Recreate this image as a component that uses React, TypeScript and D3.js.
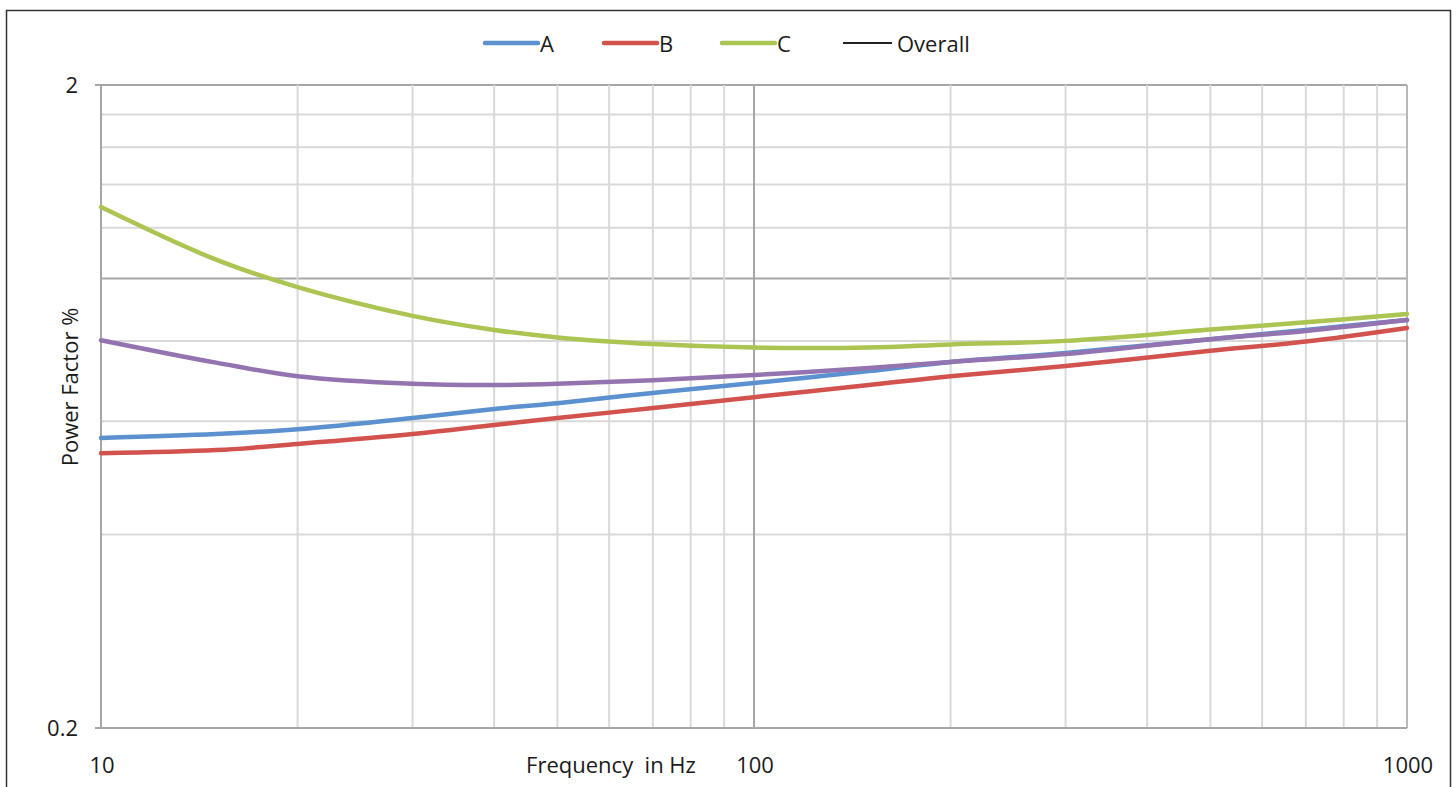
import React, { useEffect, useRef } from 'react';
import * as d3 from 'd3';

const freqs = [10, 15, 20, 30, 40, 50, 70, 100, 150, 200, 300, 500, 700, 1000];
const seriesA = [0.565, 0.573, 0.583, 0.607, 0.627, 0.64, 0.664, 0.688, 0.718, 0.742, 0.766, 0.805, 0.832, 0.862];
const seriesB = [0.535, 0.541, 0.553, 0.573, 0.592, 0.607, 0.629, 0.654, 0.683, 0.705, 0.731, 0.772, 0.798, 0.838];
const seriesC = [1.292, 1.07, 0.97, 0.875, 0.832, 0.81, 0.791, 0.781, 0.781, 0.79, 0.8, 0.833, 0.855, 0.881];
const overall = [0.802, 0.74, 0.705, 0.686, 0.683, 0.686, 0.695, 0.708, 0.726, 0.742, 0.763, 0.805, 0.829, 0.862];

const seriesNames = ['A', 'B', 'C', 'Overall'];
const seriesColors = ['#5b91cf', '#d2534e', '#abc452', '#9474b0'];
const legendColors = ['#5b91cf', '#d2534e', '#abc452', '#222222'];

const xTickLabels = [10, 100, 1000];
const yTickLabels = [0.2, 2];
const xGrid = [10, 20, 30, 40, 50, 60, 70, 80, 90, 100, 200, 300, 400, 500, 600, 700, 800, 900, 1000];
const yGrid = [0.4, 0.6, 0.8, 1, 1.2, 1.4, 1.6, 1.8, 2];

const App = () => {
  const svgRef = useRef<SVGSVGElement>(null);

  useEffect(() => {
    const svg = d3.select(svgRef.current);
    svg.selectAll('*').remove();
    const font = '"Open Sans", Lato, sans-serif';
    const fs = '22px';

    const x = d3.scaleLog().domain([10, 1000]).range([101, 1407]);
    const y = d3.scaleLog().domain([0.2, 2]).range([728, 85]);

    // outer frame
    svg.append('path')
      .attr('d', 'M6.5,800 V10.5 H1450.5 V800')
      .attr('fill', 'none')
      .attr('stroke', '#333')
      .attr('stroke-width', 1.5);

    // gridlines
    svg.append('g').selectAll('line')
      .data(yGrid)
      .enter().append('line')
      .attr('x1', 101).attr('x2', 1407)
      .attr('y1', d => y(d)).attr('y2', d => y(d))
      .attr('stroke', d => (d === 1 || d === 2 ? '#a6a6a6' : '#d9d9d9'))
      .attr('stroke-width', 2);

    svg.append('g').selectAll('line')
      .data(xGrid)
      .enter().append('line')
      .attr('x1', d => x(d)).attr('x2', d => x(d))
      .attr('y1', 85).attr('y2', 728)
      .attr('stroke', d => (d === 100 ? '#a6a6a6' : d === 1000 ? '#b8b8b8' : '#d9d9d9'))
      .attr('stroke-width', 2);

    // axes
    svg.append('line')
      .attr('x1', 101).attr('x2', 101).attr('y1', 85).attr('y2', 728)
      .attr('stroke', '#a6a6a6').attr('stroke-width', 2);
    svg.append('line')
      .attr('x1', 95).attr('x2', 1407).attr('y1', 728).attr('y2', 728)
      .attr('stroke', '#a6a6a6').attr('stroke-width', 2);
    svg.append('line')
      .attr('x1', 95).attr('x2', 101).attr('y1', 85).attr('y2', 85)
      .attr('stroke', '#a6a6a6').attr('stroke-width', 2);

    // tick labels
    svg.append('g').selectAll('text')
      .data(yTickLabels)
      .enter().append('text')
      .attr('x', 78)
      .attr('y', d => y(d) + 8)
      .attr('text-anchor', 'end')
      .style('font-family', font)
      .style('font-size', fs)
      .attr('fill', '#1a1a1a')
      .text(d => String(d));

    svg.append('g').selectAll('text')
      .data(xTickLabels)
      .enter().append('text')
      .attr('x', d => x(d) + 1)
      .attr('y', 773)
      .attr('text-anchor', 'middle')
      .style('font-family', font)
      .style('font-size', fs)
      .attr('fill', '#1a1a1a')
      .text(d => String(d));

    // axis titles
    svg.append('text')
      .attr('x', 611)
      .attr('y', 773)
      .attr('text-anchor', 'middle')
      .style('font-family', font)
      .style('font-size', fs)
      .style('white-space', 'pre')
      .attr('fill', '#1a1a1a')
      .text('Frequency  in Hz');

    svg.append('text')
      .attr('transform', 'translate(78,387) rotate(-90)')
      .attr('text-anchor', 'middle')
      .style('font-family', font)
      .style('font-size', fs)
      .attr('fill', '#1a1a1a')
      .text('Power Factor %');

    // lines
    const all = [seriesA, seriesB, seriesC, overall];
    const line = d3.line<number>()
      .x((_, i) => x(freqs[i]))
      .y(d => y(d))
      .curve(d3.curveCatmullRom.alpha(0.5));

    all.forEach((vals, i) => {
      svg.append('path')
        .datum(vals)
        .attr('d', line)
        .attr('fill', 'none')
        .attr('stroke', seriesColors[i])
        .attr('stroke-width', 4.5)
        .attr('stroke-linecap', 'round');
    });

    // legend
    const legendX = [485, 604, 722, 843];
    const lg = svg.append('g');
    seriesNames.forEach((name, i) => {
      const isOverall = i === 3;
      lg.append('line')
        .attr('x1', legendX[i]).attr('x2', legendX[i] + (isOverall ? 49 : 53))
        .attr('y1', 43).attr('y2', 43)
        .attr('stroke', legendColors[i])
        .attr('stroke-width', isOverall ? 2 : 4.5)
        .attr('stroke-linecap', isOverall ? 'butt' : 'round');
      lg.append('text')
        .attr('x', legendX[i] + (isOverall ? 54 : 55))
        .attr('y', 52)
        .style('font-family', font)
        .style('font-size', fs)
        .attr('fill', '#1a1a1a')
        .text(name);
    });
  }, []);

  return (
    <svg ref={svgRef} width={1456} height={787} style={{ position: 'absolute', left: 0, top: 0 }} />
  );
};

export default App;
